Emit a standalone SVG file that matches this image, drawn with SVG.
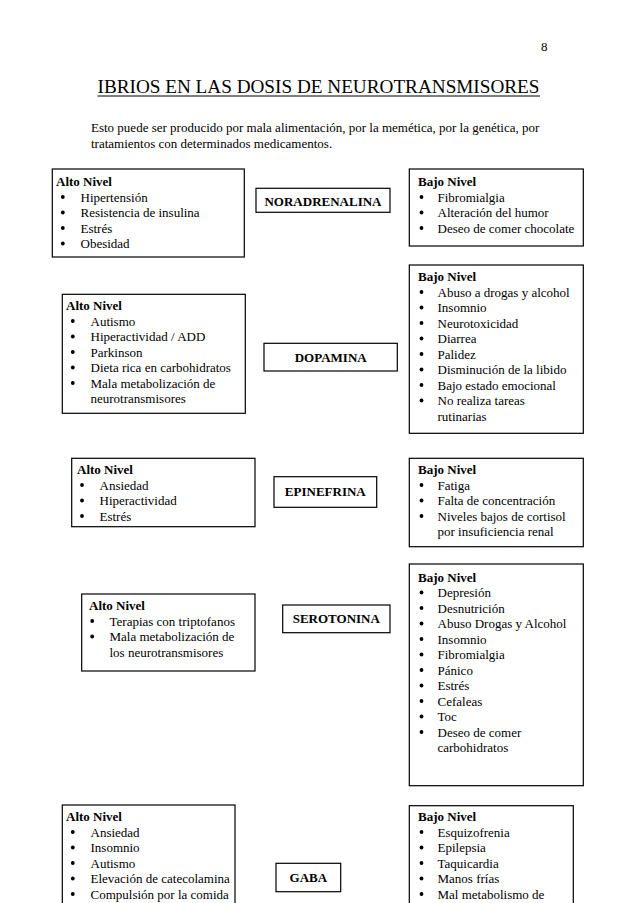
<svg xmlns="http://www.w3.org/2000/svg" width="638" height="903" viewBox="0 0 638 903">
<style>
text{font-family:"Liberation Serif","Times New Roman",serif;fill:#000}
.t{font-size:13px}
.b{font-size:13px;font-weight:bold}
.c{font-size:13px;font-weight:bold;text-anchor:middle}
.box{fill:#fff;stroke:#000;stroke-width:1.2}
.dot{fill:#000}
</style>
<rect width="638" height="903" fill="#fff"/>
<text class="t" x="541" y="51">8</text>
<text x="97.5" y="92.5" style="font-size:19.5px" textLength="442" lengthAdjust="spacingAndGlyphs">IBRIOS EN LAS DOSIS DE NEUROTRANSMISORES</text>
<line x1="97.5" y1="96" x2="540" y2="96" stroke="#000" stroke-width="1"/>
<text class="t" x="91" y="132">Esto puede ser producido por mala alimentación, por la memética, por la genética, por</text>
<text class="t" x="91" y="147.5">tratamientos con determinados medicamentos.</text>

<g id="connectors"></g>

<!-- Row 1 NORADRENALINA -->
<g id="nor-alto">
<rect class="box" x="52.3" y="169" width="192" height="88"/>
<text class="b" x="56" y="186">Alto Nivel</text>
<circle class="dot" cx="62.8" cy="197" r="1.9"/><text class="t" x="80.5" y="201.5">Hipertensión</text>
<circle class="dot" cx="62.8" cy="212.5" r="1.9"/><text class="t" x="80.5" y="217">Resistencia de insulina</text>
<circle class="dot" cx="62.8" cy="228" r="1.9"/><text class="t" x="80.5" y="232.5">Estrés</text>
<circle class="dot" cx="62.8" cy="243.5" r="1.9"/><text class="t" x="80.5" y="248">Obesidad</text>
</g>
<g id="noradrenalina">
<rect class="box" x="256" y="188.3" width="134" height="24"/>
<text class="c" x="323" y="206">NORADRENALINA</text>
</g>
<g id="nor-bajo">
<rect class="box" x="409.3" y="169" width="174" height="77"/>
<text class="b" x="418" y="186">Bajo Nivel</text>
<circle class="dot" cx="421.5" cy="197" r="1.9"/><text class="t" x="437.5" y="201.5">Fibromialgia</text>
<circle class="dot" cx="421.5" cy="212.5" r="1.9"/><text class="t" x="437.5" y="217">Alteración del humor</text>
<circle class="dot" cx="421.5" cy="228" r="1.9"/><text class="t" x="437.5" y="232.5">Deseo de comer chocolate</text>
</g>

<!-- Row 2 DOPAMINA -->
<g id="dop-alto">
<rect class="box" x="62.3" y="294.3" width="183" height="119"/>
<text class="b" x="66" y="310">Alto Nivel</text>
<circle class="dot" cx="72.8" cy="321" r="1.9"/><text class="t" x="90.5" y="325.5">Autismo</text>
<circle class="dot" cx="72.8" cy="336.5" r="1.9"/><text class="t" x="90.5" y="341">Hiperactividad / ADD</text>
<circle class="dot" cx="72.8" cy="352" r="1.9"/><text class="t" x="90.5" y="356.5">Parkinson</text>
<circle class="dot" cx="72.8" cy="367.5" r="1.9"/><text class="t" x="90.5" y="372">Dieta rica en carbohidratos</text>
<circle class="dot" cx="72.8" cy="383" r="1.9"/><text class="t" x="90.5" y="387.5">Mala metabolización de</text>
<text class="t" x="90.5" y="403">neurotransmisores</text>
</g>
<g id="dopamina">
<rect class="box" x="264" y="343.3" width="133.3" height="27.7"/>
<text class="c" x="330.7" y="361.5">DOPAMINA</text>
</g>
<g id="dop-bajo">
<rect class="box" x="409.3" y="265" width="174" height="168.3"/>
<text class="b" x="418" y="281">Bajo Nivel</text>
<circle class="dot" cx="421.5" cy="292" r="1.9"/><text class="t" x="437.5" y="296.5">Abuso a drogas y alcohol</text>
<circle class="dot" cx="421.5" cy="307.5" r="1.9"/><text class="t" x="437.5" y="312">Insomnio</text>
<circle class="dot" cx="421.5" cy="323" r="1.9"/><text class="t" x="437.5" y="327.5">Neurotoxicidad</text>
<circle class="dot" cx="421.5" cy="338.5" r="1.9"/><text class="t" x="437.5" y="343">Diarrea</text>
<circle class="dot" cx="421.5" cy="354" r="1.9"/><text class="t" x="437.5" y="358.5">Palidez</text>
<circle class="dot" cx="421.5" cy="369.5" r="1.9"/><text class="t" x="437.5" y="374">Disminución de la libido</text>
<circle class="dot" cx="421.5" cy="385" r="1.9"/><text class="t" x="437.5" y="389.5">Bajo estado emocional</text>
<circle class="dot" cx="421.5" cy="400.5" r="1.9"/><text class="t" x="437.5" y="405">No realiza tareas</text>
<text class="t" x="437.5" y="420.5">rutinarias</text>
</g>

<!-- Row 3 EPINEFRINA -->
<g id="epi-alto">
<rect class="box" x="71.7" y="458.3" width="183.3" height="68.4"/>
<text class="b" x="77" y="474">Alto Nivel</text>
<circle class="dot" cx="82" cy="485" r="1.9"/><text class="t" x="99.5" y="489.5">Ansiedad</text>
<circle class="dot" cx="82" cy="500.5" r="1.9"/><text class="t" x="99.5" y="505">Hiperactividad</text>
<circle class="dot" cx="82" cy="516" r="1.9"/><text class="t" x="99.5" y="520.5">Estrés</text>
</g>
<g id="epinefrina">
<rect class="box" x="274" y="476.7" width="102.7" height="30.6"/>
<text class="c" x="325.3" y="496">EPINEFRINA</text>
</g>
<g id="epi-bajo">
<rect class="box" x="409.3" y="458.3" width="174" height="88.4"/>
<text class="b" x="418" y="474">Bajo Nivel</text>
<circle class="dot" cx="421.5" cy="485" r="1.9"/><text class="t" x="437.5" y="489.5">Fatiga</text>
<circle class="dot" cx="421.5" cy="500.5" r="1.9"/><text class="t" x="437.5" y="505">Falta de concentración</text>
<circle class="dot" cx="421.5" cy="516" r="1.9"/><text class="t" x="437.5" y="520.5">Niveles bajos de cortisol</text>
<text class="t" x="437.5" y="536">por insuficiencia renal</text>
</g>

<!-- Row 4 SEROTONINA -->
<g id="ser-alto">
<rect class="box" x="81.7" y="594" width="173.3" height="77"/>
<text class="b" x="89" y="610">Alto Nivel</text>
<circle class="dot" cx="92.2" cy="621" r="1.9"/><text class="t" x="109.5" y="625.5">Terapias con triptofanos</text>
<circle class="dot" cx="92.2" cy="636.5" r="1.9"/><text class="t" x="109.5" y="641">Mala metabolización de</text>
<text class="t" x="109.5" y="656.5">los neurotransmisores</text>
</g>
<g id="serotonina">
<rect class="box" x="282.7" y="605" width="107.3" height="27.7"/>
<text class="c" x="336.3" y="623">SEROTONINA</text>
</g>
<g id="ser-bajo">
<rect class="box" x="409.3" y="564" width="174" height="221.7"/>
<text class="b" x="418" y="581.5">Bajo Nivel</text>
<circle class="dot" cx="421.5" cy="592.5" r="1.9"/><text class="t" x="437.5" y="597">Depresión</text>
<circle class="dot" cx="421.5" cy="608" r="1.9"/><text class="t" x="437.5" y="612.5">Desnutrición</text>
<circle class="dot" cx="421.5" cy="623.5" r="1.9"/><text class="t" x="437.5" y="628">Abuso Drogas y Alcohol</text>
<circle class="dot" cx="421.5" cy="639" r="1.9"/><text class="t" x="437.5" y="643.5">Insomnio</text>
<circle class="dot" cx="421.5" cy="654.5" r="1.9"/><text class="t" x="437.5" y="659">Fibromialgia</text>
<circle class="dot" cx="421.5" cy="670" r="1.9"/><text class="t" x="437.5" y="674.5">Pánico</text>
<circle class="dot" cx="421.5" cy="685.5" r="1.9"/><text class="t" x="437.5" y="690">Estrés</text>
<circle class="dot" cx="421.5" cy="701" r="1.9"/><text class="t" x="437.5" y="705.5">Cefaleas</text>
<circle class="dot" cx="421.5" cy="716.5" r="1.9"/><text class="t" x="437.5" y="721">Toc</text>
<circle class="dot" cx="421.5" cy="732" r="1.9"/><text class="t" x="437.5" y="736.5">Deseo de comer</text>
<text class="t" x="437.5" y="752">carbohidratos</text>
</g>

<!-- Row 5 GABA -->
<g id="gaba-alto">
<rect class="box" x="62.3" y="805" width="172.7" height="110"/>
<text class="b" x="66" y="821">Alto Nivel</text>
<circle class="dot" cx="72.8" cy="832" r="1.9"/><text class="t" x="90.5" y="836.5">Ansiedad</text>
<circle class="dot" cx="72.8" cy="847.5" r="1.9"/><text class="t" x="90.5" y="852">Insomnio</text>
<circle class="dot" cx="72.8" cy="863" r="1.9"/><text class="t" x="90.5" y="867.5">Autismo</text>
<circle class="dot" cx="72.8" cy="878.5" r="1.9"/><text class="t" x="90.5" y="883">Elevación de catecolamina</text>
<circle class="dot" cx="72.8" cy="894" r="1.9"/><text class="t" x="90.5" y="898.5">Compulsión por la comida</text>
</g>
<g id="gaba">
<rect class="box" x="276" y="863.3" width="64.7" height="28.4"/>
<text class="c" x="308.3" y="882">GABA</text>
</g>
<g id="gaba-bajo">
<rect class="box" x="409.3" y="805.7" width="164" height="110"/>
<text class="b" x="418" y="821">Bajo Nivel</text>
<circle class="dot" cx="421.5" cy="832" r="1.9"/><text class="t" x="437.5" y="836.5">Esquizofrenia</text>
<circle class="dot" cx="421.5" cy="847.5" r="1.9"/><text class="t" x="437.5" y="852">Epilepsia</text>
<circle class="dot" cx="421.5" cy="863" r="1.9"/><text class="t" x="437.5" y="867.5">Taquicardia</text>
<circle class="dot" cx="421.5" cy="878.5" r="1.9"/><text class="t" x="437.5" y="883">Manos frías</text>
<circle class="dot" cx="421.5" cy="894" r="1.9"/><text class="t" x="437.5" y="898.5">Mal metabolismo de</text>
</g>
</svg>
